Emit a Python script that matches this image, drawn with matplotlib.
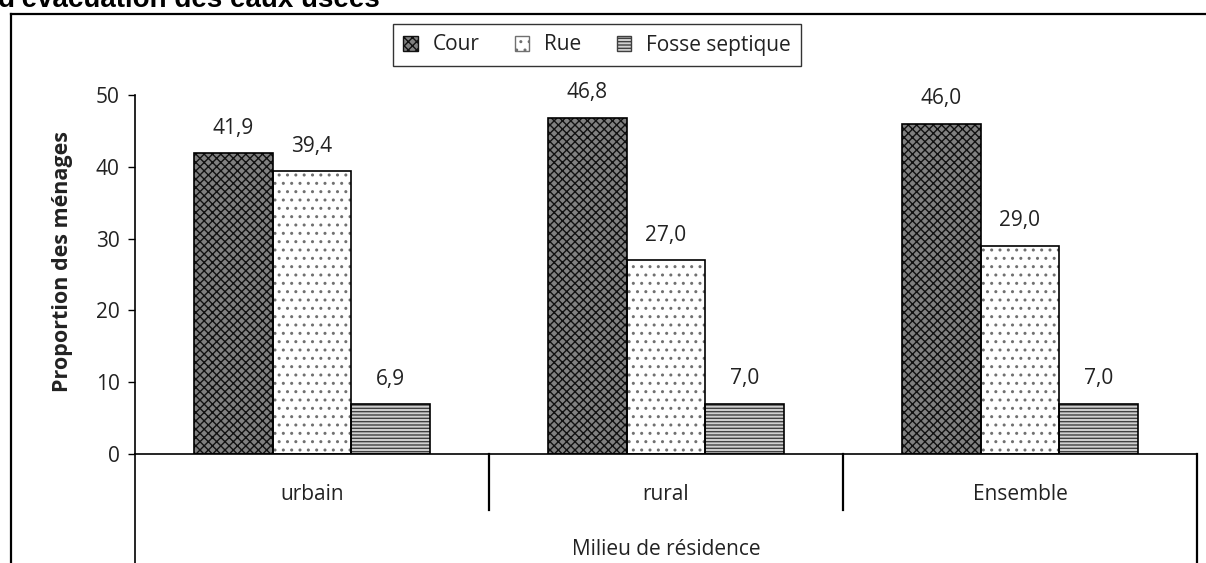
import matplotlib.pyplot as plt
from matplotlib.lines import Line2D
from matplotlib.patches import Patch
import numpy as np

plt.rcParams['font.family'] = ['Open Sans', 'DejaVu Sans']

categories = ['urbain', 'rural', 'Ensemble']
series = ['Cour', 'Rue', 'Fosse septique']
cour = [41.9, 46.8, 46.0]
rue = [39.4, 27.0, 29.0]
fosse = [6.9, 7.0, 7.0]
yticks = [0, 10, 20, 30, 40, 50]

# face, hatch, hatch colour per series
styles = [('#808080', 'xxxx', '#111111'),
          ('white', '..', '#707070'),
          ('#d0d0d0', '-----', '#404040')]

fig = plt.figure(figsize=(12.06, 5.63), dpi=100)
ax = fig.add_axes([135 / 1206, 109 / 563, 1062 / 1206, 359 / 563])

x = np.arange(len(categories)) + 0.5
w = 0.222
plt.rcParams['hatch.linewidth'] = 1.0
for i, vals in enumerate([cour, rue, fosse]):
    face, hatch, hc = styles[i]
    pos = x + (i - 1) * w
    ax.bar(pos, vals, w, color=face, hatch=hatch, edgecolor=hc, linewidth=0, zorder=2)
    ax.bar(pos, vals, w, fill=False, edgecolor='black', linewidth=1.2, zorder=3)
    for px, v in zip(pos, vals):
        ax.annotate(f'{v:.1f}'.replace('.', ','), (px, v), xytext=(0, 18),
                    textcoords='offset points', ha='center', va='center',
                    fontsize=15, color='#222222')

ax.set_xlim(0, 3)
ax.set_ylim(0, 50)
ax.set_yticks(yticks)
ax.tick_params(axis='y', direction='out', length=5, width=1, labelsize=15,
               labelcolor='#222222', pad=6)
ax.set_xticks([])
for s in ['top', 'right']:
    ax.spines[s].set_visible(False)
ax.spines['left'].set_linewidth(1.2)
ax.spines['bottom'].set_linewidth(1.2)

# axis frame below the zero line and category separators
bot = -0.31
ax.add_line(Line2D([0, 0], [0, bot], transform=ax.transAxes, color='black', lw=1.2, clip_on=False))
ax.add_line(Line2D([1, 1], [0, bot], transform=ax.transAxes, color='black', lw=1.6, clip_on=False))
for sx in [1, 2]:
    ax.plot([sx, sx], [0, -7.8], color='black', lw=1.6, clip_on=False)
for cx, c in zip(x, categories):
    ax.text(cx, -0.113, c, transform=ax.get_xaxis_transform(), ha='center',
            va='center', fontsize=15, color='#222222')
ax.text(0.5, -0.266, 'Milieu de résidence', transform=ax.transAxes, ha='center',
        va='center', fontsize=15, color='#222222')

ax.set_ylabel('Proportion des ménages', fontsize=15.5, fontweight='bold', color='#222222')
ax.yaxis.set_label_coords(-62 / 1062, 0.535)

handles = [Patch(facecolor=f, hatch=h, edgecolor=c) for f, h, c in styles]
leg = fig.legend(handles, series, loc='center', bbox_to_anchor=(597 / 1206, 1 - 45 / 563),
                 ncol=3, fontsize=15, frameon=True, fancybox=False, edgecolor='black',
                 handlelength=0.7, handleheight=0.7, handletextpad=0.7, columnspacing=1.7,
                 borderpad=0.5)
leg.get_frame().set_linewidth(1.0)
for t in leg.get_texts():
    t.set_color('#222222')

# outer frame of the figure
fig.add_artist(Line2D([11 / 1206, 11 / 1206], [0, 1 - 14 / 563], color='black', lw=1.6))
fig.add_artist(Line2D([11 / 1206, 1], [1 - 14 / 563, 1 - 14 / 563], color='black', lw=1.6))

fig.text(-2 / 1206, 1 - 7 / 563, "d'évacuation des eaux usées", fontsize=20,
         fontweight='bold', family='Liberation Sans', ha='left', va='baseline')

fig.savefig('out.png', dpi=100)
